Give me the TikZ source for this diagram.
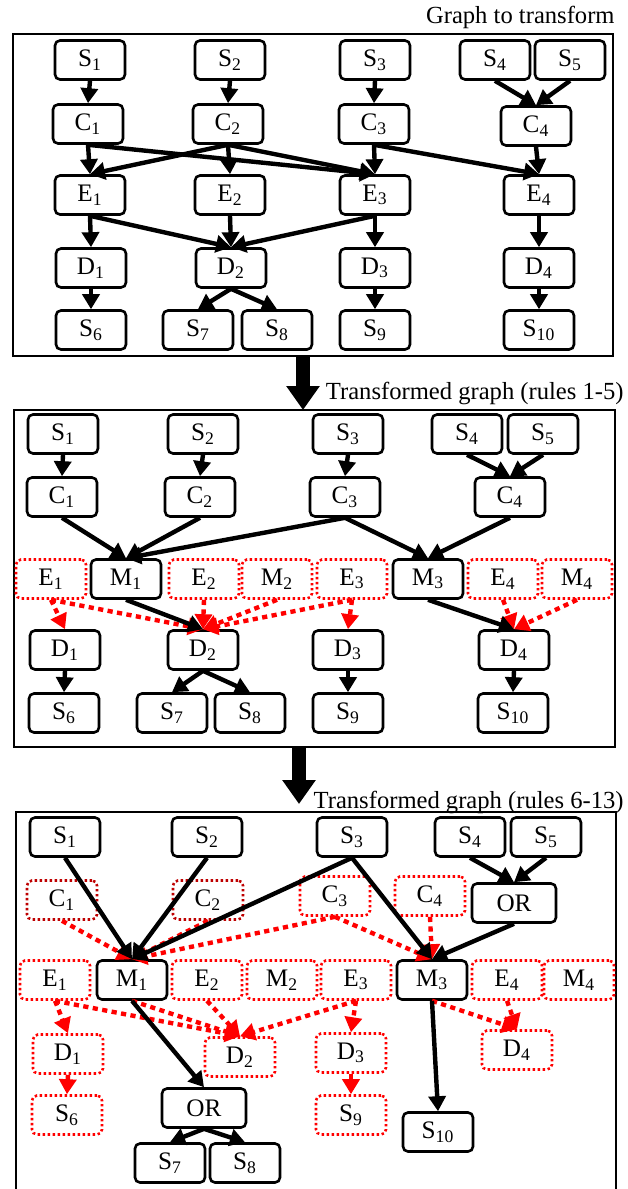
\documentclass[tikz,border=0pt]{standalone}
\usepackage{fontspec}
\setmainfont{Liberation Serif}
\usetikzlibrary{arrows.meta}
\definecolor{cutred}{RGB}{255,0,0}
\definecolor{cutdark}{RGB}{190,0,0}
\tikzset{
  gbox/.style={draw,line width=1.3pt,rounded corners=2.5pt,minimum width=35pt,
    minimum height=19.5pt,inner sep=1pt,font=\fontsize{12.6}{14}\selectfont},
  cutbox/.style={gbox,draw=cutred,dash pattern=on 1.2pt off 1.3pt},
  flow/.style={line width=2.2pt,-{Triangle[length=7.5pt,width=8.5pt]}},
  cutflow/.style={draw=cutred,line width=2.2pt,dash pattern=on 2.6pt off 2.2pt,
    -{Triangle[length=7.5pt,width=8.5pt]}},
  bigflow/.style={line width=7pt,-{Triangle[length=12pt,width=16pt]}},
  caption/.style={anchor=east,inner sep=0pt,font=\fontsize{12.3}{14}\selectfont},
  frame/.style={draw,line width=1.25pt},
}
% node at (x,y) in pixels of the page
\newcommand{\gbx}[4]{\node[gbox] (#1) at (#2,#3) {#4};}
\newcommand{\cbx}[4]{\node[cutbox] (#1) at (#2,#3) {#4};}
\newcommand{\lab}[2]{#1\textsubscript{#2}}

\begin{document}
\begin{tikzpicture}[x=0.5pt,y=-0.5pt]
  \useasboundingbox (0,0) rectangle (627,1189);

  % graph to transform
  \node[caption] (capA) at (615,17) {Graph to transform};
  \draw[frame] (13,34) rectangle (613,356);
  \gbx{aS1}{90}{60}{\lab{S}{1}}\gbx{aS2}{230}{60}{\lab{S}{2}}
  \gbx{aS3}{375}{60}{\lab{S}{3}}\gbx{aS4}{495}{60}{\lab{S}{4}}
  \gbx{aS5}{570}{60}{\lab{S}{5}}
  \gbx{aC1}{88}{124}{\lab{C}{1}}\gbx{aC2}{228}{124}{\lab{C}{2}}
  \gbx{aC3}{374}{124}{\lab{C}{3}}\gbx{aC4}{536}{126}{\lab{C}{4}}
  \gbx{aE1}{90}{195}{\lab{E}{1}}\gbx{aE2}{230}{195}{\lab{E}{2}}
  \gbx{aE3}{375}{195}{\lab{E}{3}}\gbx{aE4}{539}{195}{\lab{E}{4}}
  \gbx{aD1}{91}{268}{\lab{D}{1}}\gbx{aD2}{231}{268}{\lab{D}{2}}
  \gbx{aD3}{375}{268}{\lab{D}{3}}\gbx{aD4}{539}{268}{\lab{D}{4}}
  \gbx{aS6}{91}{330}{\lab{S}{6}}\gbx{aS7}{198}{330}{\lab{S}{7}}
  \gbx{aS8}{277}{330}{\lab{S}{8}}\gbx{aS9}{375}{330}{\lab{S}{9}}
  \gbx{aS10}{539}{330}{\lab{S}{10}}
  \foreach \a/\b in {aS1/aC1,aS2/aC2,aS3/aC3,aS4/aC4,aS5/aC4,
      aC1/aE1,aC1/aE3,aC2/aE1,aC2/aE2,aC2/aE3,aC3/aE3,aC3/aE4,aC4/aE4,
      aE1/aD1,aE1/aD2,aE2/aD2,aE3/aD2,aE3/aD3,aE4/aD4,
      aD1/aS6,aD2/aS7,aD2/aS8,aD3/aS9,aD4/aS10}
    \draw[flow] (\a.south) -- (\b.north);

  \coordinate (stepA) at (303,357);
  \coordinate (stepB) at (303,410);
  \draw[bigflow] (stepA) -- (stepB);

  % rules 1-5
  \node[caption] (capB) at (624,393) {Transformed graph (rules 1-5)};
  \draw[frame] (14,410) rectangle (615,747);
  \gbx{bS1}{63}{434}{\lab{S}{1}}\gbx{bS2}{203}{434}{\lab{S}{2}}
  \gbx{bS3}{348}{434}{\lab{S}{3}}\gbx{bS4}{467}{434}{\lab{S}{4}}
  \gbx{bS5}{543}{434}{\lab{S}{5}}
  \gbx{bC1}{62}{497}{\lab{C}{1}}\gbx{bC2}{200}{497}{\lab{C}{2}}
  \gbx{bC3}{345}{497}{\lab{C}{3}}\gbx{bC4}{510}{497}{\lab{C}{4}}
  \cbx{bE1}{51}{579}{\lab{E}{1}}\gbx{bM1}{126}{579}{\lab{M}{1}}
  \cbx{bE2}{204}{579}{\lab{E}{2}}\cbx{bM2}{277}{579}{\lab{M}{2}}
  \cbx{bE3}{352}{579}{\lab{E}{3}}\gbx{bM3}{428}{579}{\lab{M}{3}}
  \cbx{bE4}{503}{579}{\lab{E}{4}}\cbx{bM4}{577}{579}{\lab{M}{4}}
  \gbx{bD1}{65}{650}{\lab{D}{1}}\gbx{bD2}{203}{650}{\lab{D}{2}}
  \gbx{bD3}{348}{650}{\lab{D}{3}}\gbx{bD4}{514}{650}{\lab{D}{4}}
  \gbx{bS6}{64}{713}{\lab{S}{6}}\gbx{bS7}{172}{713}{\lab{S}{7}}
  \gbx{bS8}{250}{713}{\lab{S}{8}}\gbx{bS9}{348}{713}{\lab{S}{9}}
  \gbx{bS10}{513}{713}{\lab{S}{10}}
  \foreach \a/\b in {bE1/bD1,bE1/bD2,bE2/bD2,bM2/bD2,bE3/bD2,bE3/bD3,
      bE4/bD4,bM4/bD4}
    \draw[cutflow] (\a.south) -- (\b.north);
  \foreach \a/\b in {bS1/bC1,bS2/bC2,bS3/bC3,bS4/bC4,bS5/bC4,
      bC1/bM1,bC2/bM1,bC3/bM1,bC3/bM3,bC4/bM3,bM1/bD2,bM3/bD4,
      bD1/bS6,bD2/bS7,bD2/bS8,bD3/bS9,bD4/bS10}
    \draw[flow] (\a.south) -- (\b.north);

  \coordinate (stepC) at (299,748);
  \coordinate (stepD) at (299,804);
  \draw[bigflow] (stepC) -- (stepD);

  % rules 6-13
  \node[caption] (capC) at (624,802) {Transformed graph (rules 6-13)};
  \draw[frame] (16,812) rectangle (616,1196);
  \gbx{cS1}{65}{837}{\lab{S}{1}}\gbx{cS2}{207}{837}{\lab{S}{2}}
  \gbx{cS3}{352}{837}{\lab{S}{3}}\gbx{cS4}{470}{837}{\lab{S}{4}}
  \gbx{cS5}{546}{837}{\lab{S}{5}}
  \node[cutbox,draw=cutdark] (cC1) at (62,900) {\lab{C}{1}};
  \node[cutbox,draw=cutdark] (cC2) at (208,900) {\lab{C}{2}};
  \cbx{cC3}{335}{896}{\lab{C}{3}}\cbx{cC4}{430}{896}{\lab{C}{4}}
  \node[gbox,minimum width=42pt] (cOR1) at (514,903) {OR};
  \cbx{cE1}{55}{980}{\lab{E}{1}}\gbx{cM1}{132}{980}{\lab{M}{1}}
  \cbx{cE2}{207}{980}{\lab{E}{2}}\cbx{cM2}{282}{980}{\lab{M}{2}}
  \cbx{cE3}{356}{980}{\lab{E}{3}}\gbx{cM3}{432}{980}{\lab{M}{3}}
  \cbx{cE4}{507}{980}{\lab{E}{4}}\cbx{cM4}{579}{980}{\lab{M}{4}}
  \cbx{cD1}{68}{1054}{\lab{D}{1}}\cbx{cD2}{240}{1057}{\lab{D}{2}}
  \cbx{cD3}{351}{1053}{\lab{D}{3}}\cbx{cD4}{517}{1050}{\lab{D}{4}}
  \cbx{cS6}{67}{1115}{\lab{S}{6}}
  \node[gbox,minimum width=42pt] (cOR2) at (204,1108) {OR};
  \cbx{cS9}{351}{1115}{\lab{S}{9}}\gbx{cS10}{438}{1132}{\lab{S}{10}}
  \gbx{cS7}{170}{1163}{\lab{S}{7}}\gbx{cS8}{245}{1163}{\lab{S}{8}}
  \foreach \a/\b in {cC1/cM1,cC2/cM1,cC3/cM1,cC3/cM3,cC4/cM3,
      cE1/cD1,cE1/cD2,cM1/cD2,cE2/cD2,cE3/cD2,cE3/cD3,
      cD1/cS6,cD3/cS9,cM3/cD4,cE4/cD4}
    \draw[cutflow] (\a.south) -- (\b.north);
  \foreach \a/\b in {cS1/cM1,cS2/cM1,cS3/cM1,cS3/cM3,cS4/cOR1,cS5/cOR1,
      cOR1/cM3,cM1/cOR2,cM3/cS10,cOR2/cS7,cOR2/cS8}
    \draw[flow] (\a.south) -- (\b.north);
\end{tikzpicture}
\end{document}
